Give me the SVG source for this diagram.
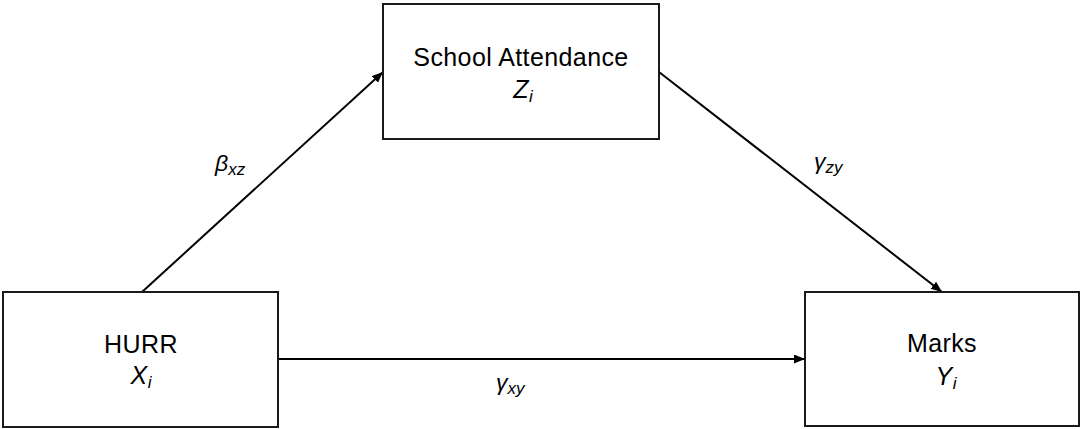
<svg xmlns="http://www.w3.org/2000/svg" width="1081" height="429" viewBox="0 0 1081 429">
<defs>
<style>
.box{fill:#fff;stroke:#1a1a1a;stroke-width:2}
.t{font-family:"Liberation Sans",Arial,sans-serif;font-size:25px;letter-spacing:0.4px;fill:#000}
.v{font-style:italic}
.sub{font-size:17px;font-style:italic;letter-spacing:0}
.lab{font-family:"Liberation Sans",Arial,sans-serif;font-size:23px;font-style:italic;fill:#000}
.edge{stroke:#000;stroke-width:2;fill:none;marker-end:url(#ah)}
</style>
<marker id="ah" markerUnits="userSpaceOnUse" markerWidth="12" markerHeight="10" refX="11" refY="4.5" orient="auto">
<path d="M0,0 L11,4.5 L0,9 Z" fill="#000"/>
</marker>
</defs>
<rect width="1081" height="429" fill="#fff"/>
<g id="connectors">
<line class="edge" x1="142" y1="292" x2="383" y2="72"/>
<line class="edge" x1="659" y1="72" x2="942" y2="292"/>
<line class="edge" x1="278" y1="359" x2="805" y2="359"/>
<text class="lab" x="215" y="171">β<tspan class="sub" dy="4">xz</tspan></text>
<text class="lab" x="814" y="169">γ<tspan class="sub" dy="4">zy</tspan></text>
<text class="lab" x="496" y="390">γ<tspan class="sub" dy="4">xy</tspan></text>
</g>
<g id="school">
<rect class="box" x="383" y="4" width="276" height="135"/>
<text class="t" x="521" y="66" text-anchor="middle">School Attendance</text>
<text class="t" x="523" y="98" text-anchor="middle"><tspan class="v">Z</tspan><tspan class="sub" dy="4">i</tspan></text>
</g>
<g id="hurr">
<rect class="box" x="3" y="292" width="275" height="135"/>
<text class="t" x="141" y="353" text-anchor="middle">HURR</text>
<text class="t" x="141" y="384" text-anchor="middle"><tspan class="v">X</tspan><tspan class="sub" dy="4">i</tspan></text>
</g>
<g id="marks">
<rect class="box" x="805" y="292" width="274" height="134"/>
<text class="t" x="942" y="352" text-anchor="middle">Marks</text>
<text class="t" x="946" y="385" text-anchor="middle"><tspan class="v">Y</tspan><tspan class="sub" dy="4">i</tspan></text>
</g>
</svg>
